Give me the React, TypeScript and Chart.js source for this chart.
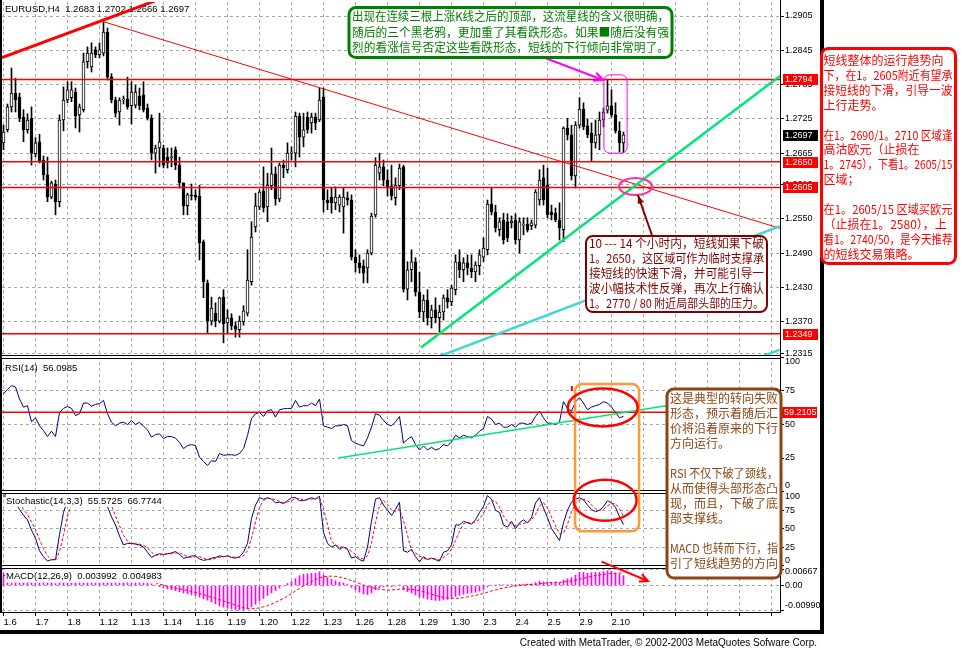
import { useEffect, useRef } from 'react';
import { Chart, registerables } from 'chart.js';

Chart.register(...registerables);

// ---------------- data ----------------
const X_TICK_LABELS = ['1.6', '1.7', '1.8', '1.12', '1.13', '1.14', '1.16', '1.19', '1.20', '1.22', '1.23', '1.26', '1.28', '1.29', '1.30', '2.3', '2.4', '2.5', '2.9', '2.10'];
const GRID_BARS = [0, 8, 16, 24, 32, 40, 48, 56, 64, 72, 80, 88, 96, 104, 112, 120, 128, 136, 144, 152, 160, 168, 176, 184, 192];

const OPEN = [
  1.2683, 1.2706, 1.2746, 1.2770, 1.2763, 1.2728, 1.2706, 1.2726, 1.2664, 1.2685,
  1.2653, 1.2627, 1.2588, 1.2611, 1.2580, 1.2723, 1.2758, 1.2762, 1.2772, 1.2732,
  1.2741, 1.2825, 1.2816, 1.2846, 1.2837, 1.2840, 1.2877, 1.2798, 1.2758, 1.2737,
  1.2758, 1.2760, 1.2748, 1.2749, 1.2765, 1.2767, 1.2744, 1.2726, 1.2665, 1.2674,
  1.2674, 1.2658, 1.2657, 1.2671, 1.2644, 1.2613, 1.2573, 1.2592, 1.2592, 1.2590,
  1.2510, 1.2438, 1.2371, 1.2385, 1.2371, 1.2413, 1.2368, 1.2377, 1.2363, 1.2356,
  1.2370, 1.2385, 1.2440, 1.2536, 1.2571, 1.2599, 1.2571, 1.2608, 1.2629, 1.2585,
  1.2644, 1.2636, 1.2665, 1.2665, 1.2730, 1.2693, 1.2728, 1.2718, 1.2728, 1.2723,
  1.2763, 1.2583, 1.2588, 1.2578, 1.2574, 1.2571, 1.2587, 1.2583, 1.2483, 1.2473,
  1.2468, 1.2464, 1.2490, 1.2557, 1.2630, 1.2641, 1.2618, 1.2608, 1.2587, 1.2608,
  1.2641, 1.2427, 1.2461, 1.2475, 1.2422, 1.2387, 1.2408, 1.2377, 1.2391, 1.2377,
  1.2387, 1.2412, 1.2405, 1.2426, 1.2475, 1.2461, 1.2473, 1.2464, 1.2457, 1.2468,
  1.2483, 1.2496, 1.2576, 1.2562, 1.2531, 1.2548, 1.2545, 1.2543, 1.2548, 1.2513,
  1.2539, 1.2541, 1.2538, 1.2539, 1.2583, 1.2622, 1.2609, 1.2562, 1.2560, 1.2548,
  1.2531, 1.2709, 1.2697, 1.2625, 1.2714, 1.2742, 1.2713, 1.2700, 1.2683, 1.2697,
  1.2723, 1.2740, 1.2748, 1.2732, 1.2704, 1.2683,
];
const HIGH = [
  1.2714, 1.2751, 1.2814, 1.2796, 1.2770, 1.2741, 1.2734, 1.2746, 1.2692, 1.2698,
  1.2660, 1.2658, 1.2616, 1.2618, 1.2732, 1.2781, 1.2790, 1.2790, 1.2779, 1.2751,
  1.2840, 1.2851, 1.2858, 1.2851, 1.2858, 1.2895, 1.2884, 1.2804, 1.2763, 1.2762,
  1.2765, 1.2798, 1.2790, 1.2784, 1.2779, 1.2790, 1.2751, 1.2732, 1.2679, 1.2735,
  1.2679, 1.2674, 1.2674, 1.2676, 1.2658, 1.2613, 1.2595, 1.2611, 1.2601, 1.2609,
  1.2513, 1.2443, 1.2413, 1.2403, 1.2413, 1.2426, 1.2391, 1.2384, 1.2370, 1.2380,
  1.2398, 1.2496, 1.2545, 1.2595, 1.2601, 1.2641, 1.2630, 1.2674, 1.2641, 1.2648,
  1.2653, 1.2683, 1.2676, 1.2737, 1.2735, 1.2735, 1.2737, 1.2735, 1.2735, 1.2779,
  1.2779, 1.2601, 1.2604, 1.2606, 1.2592, 1.2604, 1.2597, 1.2592, 1.2496, 1.2487,
  1.2478, 1.2496, 1.2560, 1.2657, 1.2665, 1.2653, 1.2636, 1.2644, 1.2622, 1.2646,
  1.2644, 1.2475, 1.2496, 1.2482, 1.2457, 1.2417, 1.2426, 1.2399, 1.2412, 1.2399,
  1.2417, 1.2426, 1.2434, 1.2487, 1.2496, 1.2482, 1.2487, 1.2487, 1.2475, 1.2496,
  1.2517, 1.2583, 1.2604, 1.2574, 1.2552, 1.2560, 1.2559, 1.2555, 1.2559, 1.2552,
  1.2552, 1.2552, 1.2548, 1.2601, 1.2636, 1.2644, 1.2639, 1.2574, 1.2569, 1.2578,
  1.2711, 1.2726, 1.2714, 1.2720, 1.2762, 1.2753, 1.2725, 1.2718, 1.2723, 1.2737,
  1.2744, 1.2793, 1.2776, 1.2753, 1.2720, 1.2702,
];
const LOW = [
  1.2671, 1.2702, 1.2737, 1.2737, 1.2720, 1.2685, 1.2700, 1.2644, 1.2658, 1.2648,
  1.2618, 1.2580, 1.2585, 1.2557, 1.2571, 1.2704, 1.2753, 1.2755, 1.2709, 1.2702,
  1.2737, 1.2814, 1.2807, 1.2832, 1.2832, 1.2835, 1.2793, 1.2753, 1.2728, 1.2714,
  1.2751, 1.2742, 1.2716, 1.2744, 1.2741, 1.2737, 1.2723, 1.2653, 1.2630, 1.2641,
  1.2639, 1.2639, 1.2641, 1.2636, 1.2604, 1.2557, 1.2557, 1.2583, 1.2583, 1.2478,
  1.2412, 1.2350, 1.2364, 1.2361, 1.2368, 1.2333, 1.2350, 1.2356, 1.2343, 1.2343,
  1.2364, 1.2380, 1.2434, 1.2527, 1.2566, 1.2562, 1.2545, 1.2601, 1.2574, 1.2580,
  1.2622, 1.2630, 1.2653, 1.2641, 1.2658, 1.2676, 1.2700, 1.2700, 1.2706, 1.2720,
  1.2562, 1.2566, 1.2560, 1.2566, 1.2562, 1.2525, 1.2574, 1.2478, 1.2457, 1.2455,
  1.2438, 1.2438, 1.2487, 1.2553, 1.2618, 1.2608, 1.2590, 1.2583, 1.2574, 1.2601,
  1.2422, 1.2408, 1.2440, 1.2415, 1.2377, 1.2370, 1.2364, 1.2359, 1.2368, 1.2349,
  1.2373, 1.2394, 1.2398, 1.2417, 1.2447, 1.2440, 1.2452, 1.2447, 1.2440, 1.2452,
  1.2475, 1.2487, 1.2557, 1.2527, 1.2520, 1.2506, 1.2510, 1.2534, 1.2506, 1.2490,
  1.2522, 1.2527, 1.2531, 1.2534, 1.2574, 1.2574, 1.2552, 1.2548, 1.2545, 1.2513,
  1.2510, 1.2688, 1.2618, 1.2604, 1.2709, 1.2706, 1.2692, 1.2650, 1.2674, 1.2671,
  1.2711, 1.2735, 1.2728, 1.2700, 1.2667, 1.2666,
];
const CLOSE = [
  1.2702, 1.2746, 1.2770, 1.2758, 1.2726, 1.2706, 1.2723, 1.2665, 1.2683, 1.2651,
  1.2627, 1.2588, 1.2613, 1.2580, 1.2723, 1.2758, 1.2776, 1.2776, 1.2730, 1.2746,
  1.2825, 1.2840, 1.2840, 1.2837, 1.2846, 1.2877, 1.2798, 1.2758, 1.2735, 1.2758,
  1.2760, 1.2746, 1.2772, 1.2772, 1.2748, 1.2741, 1.2726, 1.2665, 1.2674, 1.2685,
  1.2644, 1.2648, 1.2658, 1.2644, 1.2613, 1.2573, 1.2592, 1.2590, 1.2588, 1.2508,
  1.2440, 1.2371, 1.2394, 1.2371, 1.2412, 1.2366, 1.2377, 1.2363, 1.2357, 1.2371,
  1.2389, 1.2443, 1.2518, 1.2573, 1.2597, 1.2569, 1.2609, 1.2629, 1.2585, 1.2644,
  1.2639, 1.2665, 1.2666, 1.2730, 1.2693, 1.2706, 1.2706, 1.2728, 1.2718, 1.2758,
  1.2583, 1.2578, 1.2578, 1.2588, 1.2588, 1.2588, 1.2583, 1.2483, 1.2473, 1.2464,
  1.2455, 1.2490, 1.2555, 1.2644, 1.2641, 1.2618, 1.2604, 1.2590, 1.2609, 1.2639,
  1.2427, 1.2461, 1.2475, 1.2422, 1.2387, 1.2408, 1.2377, 1.2391, 1.2377, 1.2387,
  1.2412, 1.2405, 1.2429, 1.2475, 1.2461, 1.2473, 1.2464, 1.2457, 1.2469, 1.2487,
  1.2499, 1.2576, 1.2562, 1.2534, 1.2545, 1.2513, 1.2517, 1.2546, 1.2513, 1.2545,
  1.2541, 1.2531, 1.2543, 1.2597, 1.2618, 1.2583, 1.2557, 1.2557, 1.2548, 1.2534,
  1.2709, 1.2697, 1.2625, 1.2714, 1.2742, 1.2711, 1.2697, 1.2683, 1.2697, 1.2723,
  1.2737, 1.2748, 1.2732, 1.2704, 1.2683, 1.2697,
];

const RSI = [
  73, 76, 79, 78, 69, 63, 64, 52, 55, 49,
  45.5, 41, 45, 41, 59, 62, 63.4, 62, 56.7, 58,
  66, 66, 63.7, 65, 65.6, 68, 58, 51.7, 49, 51,
  51.7, 50, 53, 50, 51.7, 48.7, 46, 40.5, 42.5, 43,
  39.5, 41, 41, 39.8, 36.6, 32, 34.3, 35, 34.3, 25.6,
  22.4, 19.4, 23, 22.4, 28.4, 27, 27.4, 27.4, 27, 28.4,
  32, 41.8, 54.5, 58, 59, 56, 60.4, 61, 55.5, 61,
  61.7, 62, 62, 68, 63, 64, 64, 66, 64, 69,
  49, 48, 47, 49, 49, 50, 49, 38, 36, 35,
  34, 40, 48, 58, 57, 53, 50, 49, 52, 56,
  36, 39, 41, 35, 31, 34, 31, 33, 31, 32,
  35, 34, 37, 42, 40, 42, 41, 40, 42, 45,
  47, 56, 54, 50, 51, 48, 48, 50, 48, 51,
  51, 50, 51, 56, 60, 55, 51, 51, 50, 52,
  67, 62, 60, 67, 70, 66, 61, 63, 64, 65,
  67, 66, 63, 59, 55, 56.0985,
];
const STOCH_K = [
  95, 97, 96, 85, 76, 68, 62, 48, 37, 20,
  12, 6, 8, 8, 42, 72, 88, 93, 88, 92,
  97, 98, 98, 96, 97, 98, 80, 66, 55, 40,
  28, 30, 30, 29, 28, 25, 18, 11, 14, 16,
  15, 16, 17, 19, 15, 10, 11, 13, 13, 9,
  7, 8, 10, 11, 13, 12, 13, 11, 10, 12,
  18, 30, 64, 82, 92, 90, 92, 90, 85, 86,
  84, 88, 92, 92, 88, 88, 90, 92, 90, 94,
  45, 30, 25, 28, 22, 25, 22, 10, 12, 8,
  6, 25, 60, 90, 92, 82, 75, 68, 76, 86,
  20, 18, 22, 12, 5, 12, 8, 10, 8, 6,
  18, 20, 28, 55, 55, 60, 58, 56, 62, 72,
  80, 95, 90, 75, 72, 55, 52, 60, 50, 58,
  62, 58, 65, 85, 92, 78, 65, 50, 42, 34,
  58, 75, 86, 90, 92, 89, 82, 76, 73, 75,
  80, 88, 85, 79, 66, 55.5725,
];
const STOCH_D = [
  93, 95, 96, 93, 86, 76, 69, 59, 49, 35,
  23, 13, 8, 7, 19, 41, 67, 84, 90, 91,
  92, 96, 98, 97, 97, 97, 92, 81, 67, 54,
  41, 33, 29, 30, 29, 27, 24, 18, 14, 14,
  15, 16, 16, 17, 17, 15, 12, 11, 12, 12,
  10, 8, 8, 10, 11, 12, 13, 12, 11, 11,
  13, 20, 37, 59, 79, 88, 91, 91, 89, 87,
  85, 86, 88, 91, 91, 89, 89, 90, 91, 92,
  76, 56, 33, 28, 25, 25, 23, 19, 15, 10,
  9, 13, 30, 58, 81, 88, 83, 75, 73, 77,
  61, 41, 20, 17, 13, 10, 8, 10, 9, 8,
  11, 15, 22, 34, 46, 57, 58, 58, 59, 63,
  71, 82, 88, 87, 79, 67, 60, 56, 54, 56,
  57, 59, 62, 69, 81, 85, 78, 66, 54, 43,
  44, 56, 73, 84, 89, 90, 88, 82, 77, 75,
  76, 81, 84, 84, 77, 66.7744,
];
const MACD = [
  0.0050, 0.0051, 0.0053, 0.0053, 0.0050, 0.0046, 0.0043, 0.0037, 0.0034, 0.0029,
  0.0023, 0.0016, 0.0013, 0.0008, 0.0014, 0.0022, 0.0030, 0.0036, 0.0038, 0.0041,
  0.0050, 0.0058, 0.0063, 0.0066, 0.0065, 0.00667, 0.0062, 0.0054, 0.0046, 0.0041,
  0.0036, 0.0031, 0.0029, 0.0026, 0.0022, 0.0018, 0.0014, 0.0007, 0.0002, -0.0005,
  -0.0010, -0.0014, -0.0017, -0.0021, -0.0025, -0.0030, -0.0033, -0.0038, -0.0042, -0.0047,
  -0.0053, -0.0059, -0.0066, -0.0074, -0.0082, -0.0087, -0.0091, -0.0095, -0.0097, -0.0099,
  -0.0099, -0.0095, -0.0086, -0.0075, -0.0062, -0.0052, -0.0040, -0.0030, -0.0020, -0.0010,
  -0.0002, 0.0008, 0.0016, 0.0028, 0.0040, 0.0045, 0.0047, 0.0049, 0.0050, 0.0055,
  0.0042, 0.0032, 0.0025, 0.0019, 0.0014, 0.0010, 0.0006, -0.0008, -0.0018, -0.0027,
  -0.0034, -0.0036, -0.0030, -0.0018, -0.0010, -0.0006, -0.0005, -0.0005, -0.0003, 0.0001,
  -0.0016, -0.0025, -0.0030, -0.0038, -0.0046, -0.0050, -0.0055, -0.0057, -0.0060, -0.0060,
  -0.0058, -0.0056, -0.0052, -0.0044, -0.0040, -0.0035, -0.0032, -0.0030, -0.0027, -0.0022,
  -0.0016, -0.0006, 0.0000, 0.0002, 0.0004, 0.0003, 0.0003, 0.0004, 0.0003, 0.0005,
  0.0006, 0.0006, 0.0007, 0.0012, 0.0018, 0.0015, 0.0014, 0.0013, 0.0013, 0.0012,
  0.0022, 0.0027, 0.0032, 0.0042, 0.0053, 0.0053, 0.0049, 0.0052, 0.0053, 0.0054,
  0.0056, 0.0059, 0.0057, 0.0050, 0.0045, 0.003992,
];
const MACD_SIGNAL = [
  0.0040, 0.0042, 0.0044, 0.0046, 0.0047, 0.0048, 0.0048, 0.0047, 0.0045, 0.0043,
  0.0040, 0.0036, 0.0032, 0.0027, 0.0023, 0.0021, 0.0020, 0.0021, 0.0023, 0.0025,
  0.0028, 0.0032, 0.0036, 0.0040, 0.0044, 0.0048, 0.0051, 0.0053, 0.0053, 0.0052,
  0.0050, 0.0047, 0.0043, 0.0039, 0.0035, 0.0030, 0.0025, 0.0019, 0.0012, 0.0006,
  0.0001, -0.0003, -0.0007, -0.0010, -0.0013, -0.0017, -0.0020, -0.0024, -0.0028, -0.0032,
  -0.0037, -0.0042, -0.0047, -0.0052, -0.0057, -0.0063, -0.0068, -0.0073, -0.0079, -0.0085,
  -0.0090, -0.0093, -0.0094, -0.0093, -0.0090, -0.0086, -0.0081, -0.0075, -0.0068, -0.0060,
  -0.0052, -0.0043, -0.0033, -0.0022, -0.0011, -0.0002, 0.0007, 0.0016, 0.0024, 0.0031,
  0.0035, 0.0037, 0.0038, 0.0037, 0.0034, 0.0030, 0.0026, 0.0020, 0.0014, 0.0008,
  0.0002, -0.0004, -0.0008, -0.0012, -0.0015, -0.0017, -0.0018, -0.0018, -0.0017, -0.0015,
  -0.0014, -0.0015, -0.0016, -0.0018, -0.0021, -0.0025, -0.0030, -0.0035, -0.0040, -0.0045,
  -0.0048, -0.0050, -0.0052, -0.0052, -0.0051, -0.0049, -0.0046, -0.0043, -0.0040, -0.0036,
  -0.0032, -0.0027, -0.0022, -0.0018, -0.0014, -0.0010, -0.0007, -0.0004, -0.0002, 0.0000,
  0.0002, 0.0003, 0.0004, 0.0005, 0.0007, 0.0009, 0.0011, 0.0012, 0.0013, 0.0013,
  0.0014, 0.0016, 0.0018, 0.0021, 0.0025, 0.0029, 0.0033, 0.0037, 0.0040, 0.0043,
  0.0045, 0.0047, 0.0049, 0.0050, 0.0050, 0.004983,
];

const PRICE_TICKS = [1.2905, 1.2845, 1.2785, 1.2725, 1.2665, 1.2610, 1.2550, 1.2490, 1.2430, 1.2370, 1.2315];
const OSC_TICKS = [100, 75, 50, 25, 0];
const MACD_TICKS = [0.00667, 0, -0.0099];
const MACD_TICK_LABELS = ['0.00667', '0.00', '-0.00990'];

const PRICE_LEVELS = [1.2794, 1.2650, 1.2605, 1.2349];
const PRICE_LEVEL_LABELS = ['1.2794', '1.2650', '1.2605', '1.2349'];
const LAST_PRICE = 1.2697;
const RSI_LEVEL = 59.2105;

// trend lines: [bar index, value] anchor pairs
const TREND_THICK = [[0, 1.2833], [25, 1.2898]];
const TREND_THIN = [[25, 1.2895], [81.6, 1.2774]];
const GREEN_SUPPORT = [[104.4, 1.2325], [164.1, 1.2641]];
const CYAN_LINE = [[113.3, 1.2321], [192.9, 1.2534]];
const CYAN_LINE_2 = [[185, 1.22966], [194.1, 1.2321]];
const RSI_SUPPORT = [[83.7, 25.0], [170, 66.0]];

const TITLE_MAIN = 'EURUSD,H4  1.2683 1.2702 1.2666 1.2697';
const TITLE_RSI = 'RSI(14)  56.0985';
const TITLE_STOCH = 'Stochastic(14,3,3)  55.5725  66.7744';
const TITLE_MACD = 'MACD(12,26,9)  0.003992  0.004983';
const FOOTER = 'Created with MetaTrader, \u00a9 2002-2003 MetaQuotes Sofware Corp.';

const GREEN_NOTE = [
  '出现在连续三根上涨K线之后的顶部，这流星线的含义很明确，',
  '随后的三个黑老鸦，更加重了其看跌形态。如果■随后没有强',
  '烈的看涨信号否定这些看跌形态，短线的下行倾向非常明了。',
];
const MAROON_NOTE = [
  '10 --- 14 个小时内，短线如果下破',
  '1。2650，这区域可作为临时支撑承',
  '接短线的快速下滑，并可能引导一',
  '波小幅技术性反弹，再次上行确认',
  '1。2770 / 80 附近局部头部的压力。',
];
const BROWN_NOTE = [
  '这是典型的转向失败',
  '形态，预示着随后汇',
  '价将沿着原来的下行',
  '方向运行。',
  '',
  'RSI 不仅下破了颈线，',
  '从而使得头部形态凸',
  '现，而且，下破了底',
  '部支撑线。',
  '',
  'MACD 也转而下行，指',
  '引了短线趋势的方向',
];
const RED_NOTE = [
  '短线整体的运行趋势向',
  '下，在1。2605附近有望承',
  '接短线的下滑，引导一波',
  '上行走势。',
  '',
  '在1。2690/1。2710 区域逢',
  '高沽欧元（止损在',
  '1。2745），下看1。2605/15',
  '区域；',
  '',
  '在1。2605/15 区域买欧元',
  '（止损在1。2580），上',
  '看1。2740/50，是今天推荐',
  '的短线交易策略。',
];

// ---------------- drawing helpers ----------------
const AXIS_FONT = "'Liberation Sans', Arial, sans-serif";
const CJK_FONT = "'Noto Sans CJK SC', 'Noto Sans CJK TC', sans-serif";
const GRID_COLOR = '#a8a8a8';

function seg(ctx: CanvasRenderingContext2D, x1: number, y1: number, x2: number, y2: number) {
  ctx.beginPath();
  ctx.moveTo(x1, y1);
  ctx.lineTo(x2, y2);
  ctx.stroke();
}

function trend(ctx: CanvasRenderingContext2D, xs: any, ys: any, pts: number[][], extendLeft: boolean, extendRight: boolean) {
  const [[i1, v1], [i2, v2]] = pts;
  const slope = (v2 - v1) / (i2 - i1);
  const a = extendLeft ? xs.min : i1;
  const b = extendRight ? xs.max : i2;
  seg(ctx, xs.getPixelForValue(a), ys.getPixelForValue(v1 + slope * (a - i1)), xs.getPixelForValue(b), ys.getPixelForValue(v1 + slope * (b - i1)));
}

function arrowHead(ctx: CanvasRenderingContext2D, x1: number, y1: number, x2: number, y2: number, len: number, ang: number, filled: boolean) {
  const t = Math.atan2(y2 - y1, x2 - x1);
  ctx.beginPath();
  ctx.moveTo(x2 - len * Math.cos(t - ang), y2 - len * Math.sin(t - ang));
  ctx.lineTo(x2, y2);
  ctx.lineTo(x2 - len * Math.cos(t + ang), y2 - len * Math.sin(t + ang));
  if (filled) {
    ctx.closePath();
    ctx.fill();
  } else {
    ctx.stroke();
  }
}

function clipTo(ctx: CanvasRenderingContext2D, area: any, scale: any) {
  ctx.save();
  ctx.beginPath();
  ctx.rect(area.left, scale.top, area.right - area.left, scale.bottom - scale.top);
  ctx.clip();
}

function noteBox(ctx: CanvasRenderingContext2D, x: number, y: number, w: number, h: number, color: string, lw: number, lines: string[], tx: number, ty: number, gap: number) {
  ctx.save();
  ctx.beginPath();
  (ctx as any).roundRect(x, y, w, h, 7);
  ctx.fillStyle = '#ffffff';
  ctx.fill();
  ctx.lineWidth = lw;
  ctx.strokeStyle = color;
  ctx.stroke();
  ctx.fillStyle = color;
  ctx.font = `12px ${CJK_FONT}`;
  ctx.textBaseline = 'middle';
  ctx.textAlign = 'left';
  const maxW = x + w - tx - 3;
  lines.forEach((s, k) => {
    if (s) ctx.fillText(s, tx, ty + k * gap, maxW);
  });
  ctx.restore();
}

function axisLabel(ctx: CanvasRenderingContext2D, x: number, y: number, text: string, bg: string) {
  ctx.fillStyle = bg;
  ctx.fillRect(x, Math.round(y) - 5, 35, 11);
  ctx.fillStyle = '#ffffff';
  ctx.font = `9px ${AXIS_FONT}`;
  ctx.textBaseline = 'middle';
  ctx.textAlign = 'left';
  ctx.fillText(text, x + 2, Math.round(y) + 0.5);
}

// sub-window scale labels, kept inside their window like MetaTrader does
function paneLabels(ctx: CanvasRenderingContext2D, area: any, scale: any, ticks: number[], fmt: (v: number) => string) {
  ctx.fillStyle = '#000';
  ctx.font = `9px ${AXIS_FONT}`;
  ctx.textBaseline = 'middle';
  ctx.textAlign = 'left';
  ticks.forEach((v) => {
    const p = scale.getPixelForValue(v);
    const y = Math.min(Math.max(p, scale.top + 4.5), scale.bottom - 6.5);
    ctx.fillText(fmt(v), area.right + 5, y);
  });
}

const mtPlugin = {
  id: 'mtOverlay',
  afterDatasetsDraw(chart: any) {
    const ctx: CanvasRenderingContext2D = chart.ctx;
    const area = chart.chartArea;
    const xs = chart.scales.x;
    const ym = chart.scales.y;
    const yr = chart.scales.yRsi;
    const ys = chart.scales.yStoch;
    const yd = chart.scales.yMacd;

    // main title (objects are drawn over it)
    ctx.save();
    ctx.fillStyle = '#000';
    ctx.font = `9.5px ${AXIS_FONT}`;
    ctx.textBaseline = 'middle';
    ctx.fillText(TITLE_MAIN, 5, 9.5);
    ctx.restore();

    // main panel objects
    clipTo(ctx, area, ym);
    ctx.strokeStyle = '#ff0000';
    ctx.lineWidth = 1.5;
    PRICE_LEVELS.forEach((lv) => {
      const y = ym.getPixelForValue(lv);
      seg(ctx, area.left, y, area.right, y);
    });
    ctx.lineWidth = 1;
    trend(ctx, xs, ym, TREND_THIN, false, true);
    ctx.lineWidth = 3;
    trend(ctx, xs, ym, TREND_THICK, true, true);
    ctx.strokeStyle = '#00e676';
    ctx.lineWidth = 2.5;
    trend(ctx, xs, ym, GREEN_SUPPORT, false, true);
    ctx.strokeStyle = '#40d8d0';
    ctx.lineWidth = 2.5;
    trend(ctx, xs, ym, CYAN_LINE, true, true);
    trend(ctx, xs, ym, CYAN_LINE_2, true, true);
    ctx.restore();

    // RSI panel objects
    clipTo(ctx, area, yr);
    ctx.strokeStyle = '#ff0000';
    ctx.lineWidth = 1.5;
    const ry = yr.getPixelForValue(RSI_LEVEL);
    seg(ctx, area.left, ry, area.right, ry);
    ctx.strokeStyle = '#00e676';
    ctx.lineWidth = 1.5;
    trend(ctx, xs, yr, RSI_SUPPORT, false, false);
    ctx.restore();

    // sub-window labels (opaque background)
    ctx.save();
    ctx.font = `9.5px ${AXIS_FONT}`;
    ctx.textBaseline = 'middle';
    ctx.fillStyle = '#000';
    ctx.fillText(TITLE_RSI, 5, 368);
    ctx.fillStyle = '#fff';
    ctx.fillRect(6, ys.top + 1, ctx.measureText(TITLE_STOCH).width + 2, 14);
    ctx.fillRect(5, yd.top + 1, ctx.measureText(TITLE_MACD).width + 3, 15);
    ctx.fillStyle = '#000';
    ctx.fillText(TITLE_STOCH, 6, 501.5);
    ctx.fillText(TITLE_MACD, 6, 576.5);
    ctx.restore();

    // panel separators (double lines)
    ctx.save();
    [ym.bottom, yr.bottom, ys.bottom].forEach((b: number) => {
      ctx.fillStyle = '#fff';
      ctx.fillRect(0, b - 1.5, area.right + 1, 3);
      ctx.strokeStyle = '#000';
      ctx.lineWidth = 1;
      seg(ctx, 0, Math.round(b) - 1.5, area.right + 1, Math.round(b) - 1.5);
      seg(ctx, 0, Math.round(b) + 1.5, area.right + 1, Math.round(b) + 1.5);
    });
    ctx.restore();
  },
  afterDraw(chart: any) {
    const ctx: CanvasRenderingContext2D = chart.ctx;
    const area = chart.chartArea;
    const xs = chart.scales.x;
    const ym = chart.scales.y;
    const yr = chart.scales.yRsi;
    const ys = chart.scales.yStoch;
    const yd = chart.scales.yMacd;
    const X = (i: number) => xs.getPixelForValue(i);

    ctx.save();
    // axis lines and left border
    ctx.fillStyle = '#000';
    ctx.fillRect(Math.round(area.right), 0, 1, Math.round(area.bottom) + 1);
    ctx.fillRect(0, Math.round(area.bottom), Math.round(area.right) + 1, 1);
    ctx.fillRect(0, 0, 2, Math.round(area.bottom));

    // sub-window scale labels
    paneLabels(ctx, area, yr, OSC_TICKS, (v) => String(v));
    paneLabels(ctx, area, ys, OSC_TICKS, (v) => String(v));
    paneLabels(ctx, area, yd, MACD_TICKS, (v) => MACD_TICK_LABELS[MACD_TICKS.indexOf(v)]);

    // price level labels
    PRICE_LEVELS.forEach((lv, k) => axisLabel(ctx, area.right + 3, ym.getPixelForValue(lv), PRICE_LEVEL_LABELS[k], '#ff0000'));
    axisLabel(ctx, area.right + 3, ym.getPixelForValue(LAST_PRICE), LAST_PRICE.toFixed(4), '#000000');
    axisLabel(ctx, area.right + 2, yr.getPixelForValue(RSI_LEVEL), RSI_LEVEL.toFixed(4), '#ff0000');

    // magenta frame around the shooting star / crows
    ctx.strokeStyle = '#ff00ff';
    ctx.lineWidth = 1;
    ctx.beginPath();
    (ctx as any).roundRect(X(150.1), ym.getPixelForValue(1.2802), X(155.9) - X(150.1), ym.getPixelForValue(1.2665) - ym.getPixelForValue(1.2802), 6);
    ctx.stroke();
    // magenta arrow
    ctx.lineWidth = 2;
    const ma1 = [X(135.4), ym.getPixelForValue(1.28315)];
    const ma2 = [X(149.9), ym.getPixelForValue(1.2793)];
    seg(ctx, ma1[0], ma1[1], ma2[0], ma2[1]);
    arrowHead(ctx, ma1[0], ma1[1], ma2[0], ma2[1], 10, 0.45, false);

    // pink ellipse at the trend line crossing
    ctx.strokeStyle = '#ff2d9a';
    ctx.lineWidth = 2;
    ctx.beginPath();
    ctx.ellipse(X(158), ym.getPixelForValue(1.26066), 16.5, 8.5, 0, 0, Math.PI * 2);
    ctx.stroke();

    // maroon arrow from the note to the ellipse
    ctx.strokeStyle = '#800000';
    ctx.fillStyle = '#800000';
    ctx.lineWidth = 2;
    const mr1 = [X(162.1), ym.getPixelForValue(1.25218)];
    const mr2 = [X(158.6), ym.getPixelForValue(1.25918)];
    seg(ctx, mr1[0], mr1[1], mr2[0], mr2[1]);
    arrowHead(ctx, mr1[0], mr1[1], mr2[0], mr2[1], 9, 0.35, true);

    // orange frame across RSI & Stochastic
    ctx.strokeStyle = '#ff9933';
    ctx.lineWidth = 2.5;
    ctx.beginPath();
    const oTop = yr.getPixelForValue(80.2);
    const oBot = ys.getPixelForValue(46.6);
    (ctx as any).roundRect(X(142.9), oTop, X(158.9) - X(142.9), oBot - oTop, 7);
    ctx.stroke();

    // red ellipses
    ctx.strokeStyle = '#ff0000';
    ctx.lineWidth = 2.5;
    ctx.beginPath();
    ctx.ellipse(X(149.8), yr.getPixelForValue(62.7), 35, 19, 0, 0, Math.PI * 2);
    ctx.stroke();
    ctx.beginPath();
    ctx.ellipse(X(150.4), ys.getPixelForValue(88.5), 31.5, 20.5, 0, 0, Math.PI * 2);
    ctx.stroke();
    // small red tick in RSI
    ctx.lineWidth = 2;
    seg(ctx, X(142.1), yr.getPixelForValue(78.7), X(142.1), yr.getPixelForValue(75));

    // red arrow in MACD
    ctx.lineWidth = 2;
    const ra1 = [X(149.5), yd.getPixelForValue(0.00962)];
    const ra2 = [X(161.1), yd.getPixelForValue(0.00182)];
    seg(ctx, ra1[0], ra1[1], ra2[0], ra2[1]);
    arrowHead(ctx, ra1[0], ra1[1], ra2[0], ra2[1], 9, 0.45, false);

    // notes
    noteBox(ctx, 349, 7.5, 323, 50, '#008000', 3, GREEN_NOTE, 352, 16.5, 15.6);
    noteBox(ctx, 586, 236, 181, 76, '#800000', 2, MAROON_NOTE, 589, 243, 15.2);
    noteBox(ctx, 667, 389, 114, 189, '#8b4513', 3, BROWN_NOTE, 670, 398.5, 15);

    // outer frame
    ctx.fillStyle = '#000';
    ctx.fillRect(820, 0, 4, 634);
    ctx.fillRect(0, 630, 824, 4);

    noteBox(ctx, 821.5, 48.5, 134, 215, '#ff0000', 3, RED_NOTE, 823.5, 60.5, 14.9);

    // footer
    ctx.fillStyle = '#000';
    ctx.font = `10px ${AXIS_FONT}`;
    ctx.textAlign = 'right';
    ctx.textBaseline = 'middle';
    ctx.fillText(FOOTER, 817, 643);
    ctx.restore();
  },
};

function yAxis(weight: number, min: number, max: number, ticks: number[], showLabels: boolean) {
  return {
    type: 'linear',
    position: 'right',
    stack: 'panes',
    stackWeight: weight,
    min,
    max,
    offset: false,
    grid: { color: GRID_COLOR, lineWidth: 1, drawTicks: true, tickLength: 4, tickColor: '#000', tickWidth: 1, tickBorderDash: [] },
    border: { display: false, dash: [3, 3] },
    afterBuildTicks: (s: any) => {
      s.ticks = ticks.map((v) => ({ value: v }));
    },
    afterFit: (s: any) => {
      s.width = 40;
      s.paddingTop = 0;
      s.paddingBottom = 0;
      s.paddingLeft = 0;
      s.paddingRight = 0;
    },
    ticks: { display: showLabels, autoSkip: false, font: { family: AXIS_FONT, size: 9 }, color: '#000', padding: 1, callback: (v: number) => v.toFixed(4) },
  };
}

function makeChart(canvas: HTMLCanvasElement) {
  const idx = CLOSE.map((_, i) => i);
  const bodyColors = CLOSE.map((c, i) => (c >= OPEN[i] ? '#ffffff' : '#000000'));
  const config: any = {
    type: 'bar',
    data: {
      datasets: [
        { type: 'bar', data: idx.map((i) => ({ x: i, y: [LOW[i], HIGH[i]] })), backgroundColor: '#000', borderWidth: 0, barThickness: 1, grouped: false, order: 3, yAxisID: 'y' },
        { type: 'bar', data: idx.map((i) => ({ x: i, y: [OPEN[i], CLOSE[i]] })), backgroundColor: bodyColors, borderColor: '#000', borderWidth: 1, borderSkipped: false, barThickness: 3, grouped: false, minBarLength: 1, order: 2, yAxisID: 'y' },
        { type: 'line', data: idx.map((i) => ({ x: i, y: RSI[i] })), borderColor: '#000080', borderWidth: 1, pointRadius: 0, fill: false, order: 1, yAxisID: 'yRsi' },
        { type: 'line', data: idx.map((i) => ({ x: i, y: STOCH_K[i] })), borderColor: '#000080', borderWidth: 1, pointRadius: 0, fill: false, order: 1, yAxisID: 'yStoch' },
        { type: 'line', data: idx.map((i) => ({ x: i, y: STOCH_D[i] })), borderColor: '#ff0000', borderWidth: 1, borderDash: [3, 2], pointRadius: 0, fill: false, order: 0, yAxisID: 'yStoch' },
        { type: 'bar', data: idx.map((i) => ({ x: i, y: MACD[i] })), backgroundColor: '#ff00ff', borderWidth: 0, barThickness: 1, grouped: false, order: 2, yAxisID: 'yMacd' },
        { type: 'line', data: idx.map((i) => ({ x: i, y: MACD_SIGNAL[i] })), borderColor: '#ff0000', borderWidth: 1, borderDash: [3, 2], pointRadius: 0, fill: false, order: 0, yAxisID: 'yMacd' },
      ],
    },
    options: {
      animation: false,
      responsive: false,
      devicePixelRatio: 1,
      events: [],
      layout: { padding: { left: 2, top: 2, right: 150, bottom: 21 } },
      plugins: { legend: { display: false }, tooltip: { enabled: false }, title: { display: false } },
      scales: {
        x: {
          type: 'linear',
          position: 'bottom',
          min: -0.375,
          max: 194.125,
          offset: false,
          grid: { offset: false, color: GRID_COLOR, lineWidth: 1, drawTicks: true, tickLength: 4, tickColor: '#000', tickBorderDash: [] },
          border: { display: false, dash: [3, 3] },
          afterBuildTicks: (s: any) => {
            s.ticks = GRID_BARS.map((v) => ({ value: v }));
          },
          afterFit: (s: any) => {
            s.height = 18;
            s.paddingLeft = 0;
            s.paddingRight = 0;
            s.paddingTop = 0;
            s.paddingBottom = 0;
          },
          ticks: {
            autoSkip: false,
            maxRotation: 0,
            minRotation: 0,
            align: 'start',
            padding: 1,
            font: { family: AXIS_FONT, size: 9.5 },
            color: '#000',
            callback: (v: number) => X_TICK_LABELS[Math.round(v / 8)] ?? '',
          },
        },
        y: yAxis(355, 1.230825, 1.29295, PRICE_TICKS, true),
        yRsi: yAxis(134.8, -0.22, 100.37, OSC_TICKS, false),
        yStoch: yAxis(74.9, -1.6, 100, OSC_TICKS, false),
        yMacd: yAxis(45.3, -0.0107, 0.0076, MACD_TICKS, false),
      },
    },
    plugins: [mtPlugin],
  };
  return new Chart(canvas, config);
}

export default function App() {
  const ref = useRef<HTMLCanvasElement>(null);
  useEffect(() => {
    if (!ref.current) return;
    const chart = makeChart(ref.current);
    return () => chart.destroy();
  }, []);
  return (
    <div style={{ position: 'absolute', left: 0, top: 0, width: 970, height: 651, background: '#ffffff', overflow: 'hidden' }}>
      <canvas ref={ref} width={970} height={651} style={{ display: 'block', width: 970, height: 651 }} />
    </div>
  );
}
